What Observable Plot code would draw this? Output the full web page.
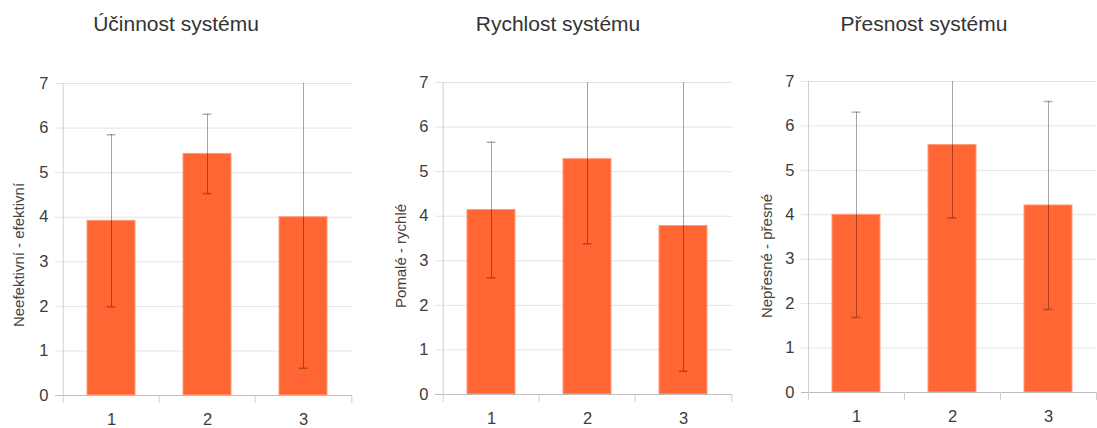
<!DOCTYPE html>
<html>
<head>
<meta charset="utf-8">
<script src="https://cdn.jsdelivr.net/npm/d3@7"></script>
<script src="https://cdn.jsdelivr.net/npm/@observablehq/plot@0.6"></script>
<style>
  html, body { margin: 0; padding: 0; background: #fff; }
  #root { position: relative; width: 1097px; height: 428px; overflow: hidden; font-family: "Liberation Sans", Arial, sans-serif; }
  .panel { position: absolute; top: 0; }
  .title { position: absolute; top: 13px; font-size: 21px; line-height: 21px; color: #333; white-space: nowrap; transform: translateX(-50%); }
  .ylab { position: absolute; font-size: 15px; line-height: 15px; color: #444; white-space: nowrap; transform: translate(-50%, -50%) rotate(-90deg); }
</style>
</head>
<body>
<div id="root"></div>
<script>
// ---- data ----
const categories = ["1", "2", "3"];
const titles = ["Účinnost systému", "Rychlost systému", "Přesnost systému"];
const yLabels = ["Neefektivní - efektivní", "Pomalé - rychlé", "Nepřesné - přesné"];
const yTicks = [0, 1, 2, 3, 4, 5, 6, 7];
const ucinnostMean = [3.92, 5.42, 4.0];
const ucinnostErr = [1.93, 0.89, 3.39];
const rychlostMean = [4.14, 5.28, 3.78];
const rychlostErr = [1.52, 1.90, 3.26];
const presnostMean = [4.0, 5.57, 4.21];
const presnostErr = [2.31, 1.64, 2.34];

// ---- layout ----
const layouts = [
  {left: 0,   width: 370, ml: 62, mr: 18, mt: 83, mb: 33, titleX: 176, labX: 18,  labY: 255},
  {left: 370, width: 370, ml: 72, mr: 8,  mt: 82, mb: 34, titleX: 558, labX: 400, labY: 256},
  {left: 740, width: 357, ml: 68, mr: 1,  mt: 81, mb: 36, titleX: 924, labX: 766, labY: 256}
];
const series = [
  [ucinnostMean, ucinnostErr],
  [rychlostMean, rychlostErr],
  [presnostMean, presnostErr]
];

const root = document.getElementById("root");
const H = 428;
const yMax = 7;

series.forEach(([mean, err], p) => {
  const L = layouts[p];
  const data = categories.map((c, i) => ({cat: c, mean: mean[i], lo: mean[i] - err[i], hi: mean[i] + err[i]}));
  const frameW = L.width - L.ml - L.mr;
  const frameH = H - L.mt - L.mb;
  const step = frameW / categories.length;
  const bandwidth = step * 0.5;
  const tickLen = 8 * yMax / frameH; // 8px in data units
  const capInset = (bandwidth - 9) / 2;

  const chart = Plot.plot({
    width: L.width,
    height: H,
    marginLeft: L.ml,
    marginRight: L.mr,
    marginTop: L.mt,
    marginBottom: L.mb,
    style: {background: "transparent", overflow: "visible", fontFamily: "'Liberation Sans', Arial, sans-serif", color: "#444"},
    x: {domain: categories, paddingInner: 0.5, paddingOuter: 0.25, axis: null},
    y: {domain: [0, yMax], axis: null},
    marks: [
      Plot.ruleY(yTicks.filter(d => d > 0), {stroke: "#e3e3e3", insetLeft: -7}),
      Plot.axisY(yTicks, {tickSize: 0, tickPadding: 14, fontSize: 16.5, fill: "#3c3c3c"}),
      Plot.barY(data, {x: "cat", y: "mean", fill: "#ff6633", stroke: "#ff9c7c", strokeWidth: 1}),
      Plot.ruleY([0], {stroke: "#bdbdbd", insetLeft: -7}),
      // category boundary ticks and left axis line
      Plot.ruleX(categories.slice(0, 1), {x: d => d, dx: -step / 2, y1: -tickLen, y2: yMax, stroke: "#cfcfcf"}),
      Plot.ruleX(categories.slice(1), {x: d => d, dx: -step / 2, y1: -tickLen, y2: 0, stroke: "#cfcfcf"}),
      Plot.ruleX(categories.slice(-1), {x: d => d, dx: step / 2, y1: -tickLen, y2: 0, stroke: "#cfcfcf"}),
      Plot.text(categories, {x: d => d, y: 0, text: d => d, dy: 24, fontSize: 16.5, fill: "#3c3c3c"}),
      // error bars
      Plot.ruleX(data, {x: "cat", y1: "lo", y2: d => Math.min(d.hi, yMax), stroke: "#000", strokeOpacity: 0.35}),
      Plot.tickY(data.filter(d => d.hi <= yMax), {x: "cat", y: "hi", stroke: "#000", strokeOpacity: 0.3, strokeWidth: 1.5, insetLeft: capInset, insetRight: capInset}),
      Plot.tickY(data, {x: "cat", y: "lo", stroke: "#000", strokeOpacity: 0.3, strokeWidth: 1.5, insetLeft: capInset, insetRight: capInset})
    ]
  });

  const div = document.createElement("div");
  div.className = "panel";
  div.style.left = L.left + "px";
  div.style.width = L.width + "px";
  div.appendChild(chart);
  root.appendChild(div);

  const t = document.createElement("div");
  t.className = "title";
  t.style.left = L.titleX + "px";
  t.textContent = titles[p];
  root.appendChild(t);

  const yl = document.createElement("div");
  yl.className = "ylab";
  yl.style.left = L.labX + "px";
  yl.style.top = L.labY + "px";
  yl.textContent = yLabels[p];
  root.appendChild(yl);
});
</script>
</body>
</html>
